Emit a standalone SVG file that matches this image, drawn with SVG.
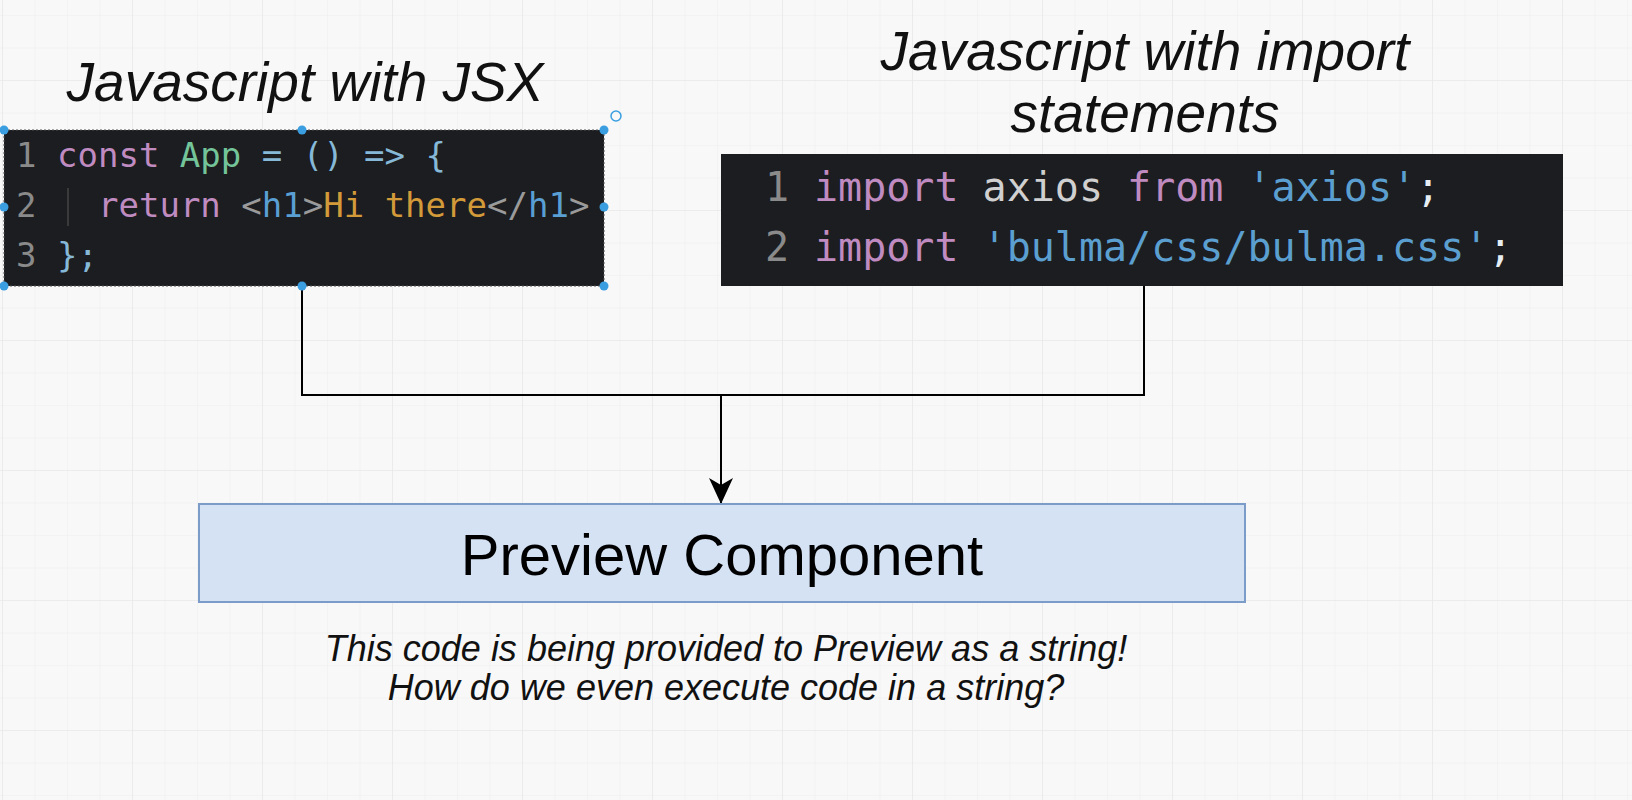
<svg xmlns="http://www.w3.org/2000/svg" width="1632" height="800" viewBox="0 0 1632 800">
<defs>
<pattern id="minor" x="2" y="15" width="32.5" height="32.5" patternUnits="userSpaceOnUse">
<path d="M0 0 H32.5 M0 0 V32.5" fill="none" stroke="#eeeeee" stroke-width="1"/>
</pattern>
<pattern id="major" x="2" y="80" width="130" height="130" patternUnits="userSpaceOnUse">
<path d="M0 0 H130 M0 0 V130" fill="none" stroke="#e6e6e6" stroke-width="1.2"/>
</pattern>
<marker id="arrow" viewBox="0 0 26 24" refX="26" refY="12" markerWidth="26" markerHeight="24" markerUnits="userSpaceOnUse" orient="auto">
<path d="M0 0 L26 12 L0 24 L7 12 Z" fill="#000"/>
</marker>
<style>
.title{font-family:"Liberation Sans",Arial,sans-serif;font-style:italic;font-size:55px;fill:#111;text-anchor:middle}
.caption{font-family:"Liberation Sans",Arial,sans-serif;font-style:italic;font-size:36px;fill:#111;text-anchor:middle}
.code{font-family:"DejaVu Sans Mono",monospace}
.ln{fill:#8a8a8a}
.kw{fill:#c08bc0}
.id{fill:#74c49a}
.pu{fill:#86b8d8}
.tag{fill:#5a9fd4}
.br{fill:#9a9a9a}
.tx{fill:#d39a3a}
.st{fill:#5b9fd0}
.vr{fill:#d0d0d0}
.wh{fill:#e6eef4}
.handle{fill:#3a9ee0}
.wire{fill:none;stroke:#000;stroke-width:2}
</style>
</defs>
<rect width="1632" height="800" fill="#f8f8f8"/>
<rect width="1632" height="800" fill="url(#minor)"/>
<rect width="1632" height="800" fill="url(#major)"/>

<g id="connectors">
<path class="wire" d="M302 286 V395 H1144 V286"/>
<path class="wire" d="M721 395 V504" marker-end="url(#arrow)"/>
</g>

<g id="title-jsx">
<text class="title" x="305" y="101">Javascript with JSX</text>
</g>

<g id="title-import">
<text class="title" x="1145" y="70">Javascript with import</text>
<text class="title" x="1145" y="132">statements</text>
</g>

<g id="code-jsx">
<rect x="4" y="130" width="600" height="156" fill="#1c1d20" stroke="#555" stroke-width="1" stroke-dasharray="2 2"/>
<line x1="68" y1="188" x2="68" y2="226" stroke="#444" stroke-width="1.5"/>
<text class="code" font-size="34" xml:space="preserve"><tspan class="ln" x="16" y="167">1</tspan><tspan x="57" y="167"><tspan class="kw">const</tspan> <tspan class="id">App</tspan> <tspan class="pu">= () =&gt; {</tspan></tspan></text>
<text class="code" font-size="34" xml:space="preserve"><tspan class="ln" x="16" y="217">2</tspan><tspan x="98" y="217"><tspan class="kw">return</tspan> <tspan class="br">&lt;</tspan><tspan class="tag">h1</tspan><tspan class="br">&gt;</tspan><tspan class="tx">Hi there</tspan><tspan class="br">&lt;/</tspan><tspan class="tag">h1</tspan><tspan class="br">&gt;</tspan></tspan></text>
<text class="code" font-size="34" xml:space="preserve"><tspan class="ln" x="16" y="267">3</tspan><tspan class="pu" x="57" y="267">};</tspan></text>
<circle class="handle" cx="4" cy="130" r="4.5"/>
<circle class="handle" cx="302" cy="130" r="4.5"/>
<circle class="handle" cx="604" cy="130" r="4.5"/>
<circle class="handle" cx="4" cy="207" r="4.5"/>
<circle class="handle" cx="604" cy="207" r="4.5"/>
<circle class="handle" cx="4" cy="286" r="4.5"/>
<circle class="handle" cx="302" cy="286" r="4.5"/>
<circle class="handle" cx="604" cy="286" r="4.5"/>
<circle cx="616" cy="116" r="5" fill="none" stroke="#3a9ee0" stroke-width="1.5"/>
</g>

<g id="code-import">
<rect x="721" y="154" width="842" height="132" fill="#1c1d20"/>
<text class="code" font-size="40" xml:space="preserve"><tspan class="ln" x="765" y="201">1</tspan><tspan x="814" y="201"><tspan class="kw">import</tspan> <tspan class="vr">axios</tspan> <tspan class="kw">from</tspan> <tspan class="st">'axios'</tspan><tspan class="wh">;</tspan></tspan></text>
<text class="code" font-size="40" xml:space="preserve"><tspan class="ln" x="765" y="261">2</tspan><tspan x="814" y="261"><tspan class="kw">import</tspan> <tspan class="st">'bulma/css/bulma.css'</tspan><tspan class="wh">;</tspan></tspan></text>
</g>

<g id="preview">
<rect x="199" y="504" width="1046" height="98" fill="#d5e2f4" stroke="#7b9cc9" stroke-width="2"/>
<text x="722" y="575" font-family="'Liberation Sans',Arial,sans-serif" font-size="58" fill="#000" text-anchor="middle">Preview Component</text>
</g>

<g id="caption">
<text class="caption" x="726" y="661">This code is being provided to Preview as a string!</text>
<text class="caption" x="726" y="700">How do we even execute code in a string?</text>
</g>
</svg>
